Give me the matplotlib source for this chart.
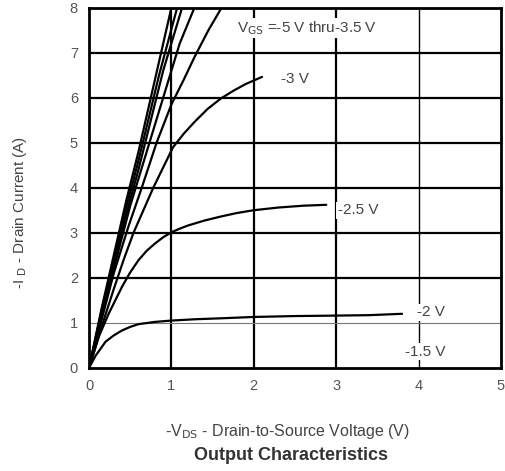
import numpy as np
import matplotlib
matplotlib.use("Agg")
import matplotlib.pyplot as plt

plt.rcParams["font.family"] = ["Liberation Sans", "DejaVu Sans"]

# curve data: (-V_DS, -I_D)
vds_5v0 = [0, 0.15, 0.3, 0.45, 0.6, 0.8, 1.0]
id_5v0 = [0, 1.3, 2.5, 3.7, 4.8, 6.4, 8.0]
vds_4v5 = [0, 0.15, 0.3, 0.45, 0.6, 0.85, 1.07]
id_4v5 = [0, 1.25, 2.4, 3.55, 4.6, 6.5, 8.0]
vds_4v0 = [0, 0.15, 0.3, 0.45, 0.6, 0.9, 1.13]
id_4v0 = [0, 1.2, 2.3, 3.4, 4.4, 6.6, 8.0]
vds_3v5a = [0, 0.15, 0.3, 0.5, 0.7, 0.95, 1.1, 1.28]
id_3v5a = [0, 1.15, 2.2, 3.6, 4.8, 6.3, 7.2, 8.0]
vds_3v5b = [0, 0.15, 0.3, 0.48, 0.64, 0.82, 1.0, 1.15, 1.28, 1.45, 1.61]
id_3v5b = [0, 1.05, 2.1, 3.15, 4.0, 5.0, 5.85, 6.4, 6.9, 7.5, 8.0]
vds_3v0 = [0, 0.15, 0.3, 0.42, 0.54, 0.66, 0.78, 0.9, 1.02, 1.15, 1.28, 1.44, 1.6, 1.75, 1.9, 2.1]
id_3v0 = [0, 0.9, 1.75, 2.4, 3.0, 3.5, 4.0, 4.45, 4.9, 5.2, 5.46, 5.75, 5.98, 6.15, 6.3, 6.46]
vds_2v5 = [0, 0.12, 0.24, 0.4, 0.5, 0.6, 0.7, 0.8, 0.9, 1.0, 1.1, 1.2, 1.4, 1.6, 1.8, 2.0, 2.3, 2.6, 2.88]
id_2v5 = [0, 0.7, 1.21, 1.8, 2.12, 2.39, 2.6, 2.76, 2.9, 3.01, 3.09, 3.16, 3.27, 3.36, 3.44, 3.5, 3.56, 3.6, 3.62]
vds_2v0 = [0, 0.08, 0.2, 0.3, 0.4, 0.5, 0.6, 0.8, 1.0, 1.3, 1.6, 2.0, 2.5, 3.0, 3.4, 3.8]
id_2v0 = [0, 0.27, 0.58, 0.72, 0.83, 0.91, 0.97, 1.02, 1.05, 1.08, 1.1, 1.13, 1.15, 1.16, 1.17, 1.2]

curves = [(vds_5v0, id_5v0), (vds_4v5, id_4v5), (vds_4v0, id_4v0),
          (vds_3v5a, id_3v5a), (vds_3v5b, id_3v5b), (vds_3v0, id_3v0),
          (vds_2v5, id_2v5), (vds_2v0, id_2v0)]

x_ticks = [0, 1, 2, 3, 4, 5]
y_ticks = [0, 1, 2, 3, 4, 5, 6, 7, 8]

fig = plt.figure(figsize=(5.06, 4.71), dpi=100)
ax = fig.add_axes([0.176, 0.219, 0.814, 0.765])
ax.set_xlim(0, 5)
ax.set_ylim(0, 8)

# grid lines, drawn by hand because their weights differ
for x in x_ticks[1:-1]:
    lw = 1.0 if x == 4 else 1.6
    ax.axvline(x, color="black", lw=lw, zorder=1)
for y in y_ticks[1:-1]:
    if y == 1:
        ax.axhline(y, color="#777777", lw=0.8, zorder=1)
    else:
        ax.axhline(y, color="black", lw=1.6, zorder=1)

for vx, iy in curves:
    ax.plot(vx, iy, color="black", lw=1.6, zorder=2,
            solid_capstyle="round", solid_joinstyle="round")

box = dict(facecolor="white", edgecolor="none", pad=1.0)
txt = dict(color="#444444", fontsize=11, va="center", ha="left", zorder=3)
ax.text(1.8, 7.55, r"V$_{\rm GS}$ =-5 V thru-3.5 V", bbox=box, **txt)
ax.text(2.33, 6.42, "-3 V", bbox=box, **txt)
ax.text(3.02, 3.5, "-2.5 V", bbox=box, **txt)
ax.text(3.98, 1.23, "-2 V", bbox=box, **txt)
ax.text(3.84, 0.36, "-1.5 V", bbox=box, **txt)

for s in ax.spines.values():
    s.set_linewidth(2.0)
    s.set_color("black")
    s.set_zorder(4)

ax.set_xticks(x_ticks)
ax.set_yticks(y_ticks)
ax.tick_params(length=0, labelsize=10.5, labelcolor="#555555", pad=8)

fig.text(0.569, 0.083, r"-V$_{\rm DS}$ - Drain-to-Source Voltage (V)",
         ha="center", va="center", fontsize=11.5, color="#444444")
fig.text(0.040, 0.548, r"-I $_{\rm D}$ - Drain Current (A)", rotation=90,
         ha="center", va="center", fontsize=11, color="#444444")
fig.text(0.575, 0.032, "Output Characteristics", ha="center", va="center",
         fontsize=13, fontweight="bold", color="#333333")

fig.savefig("out.png", dpi=100, facecolor="white")
